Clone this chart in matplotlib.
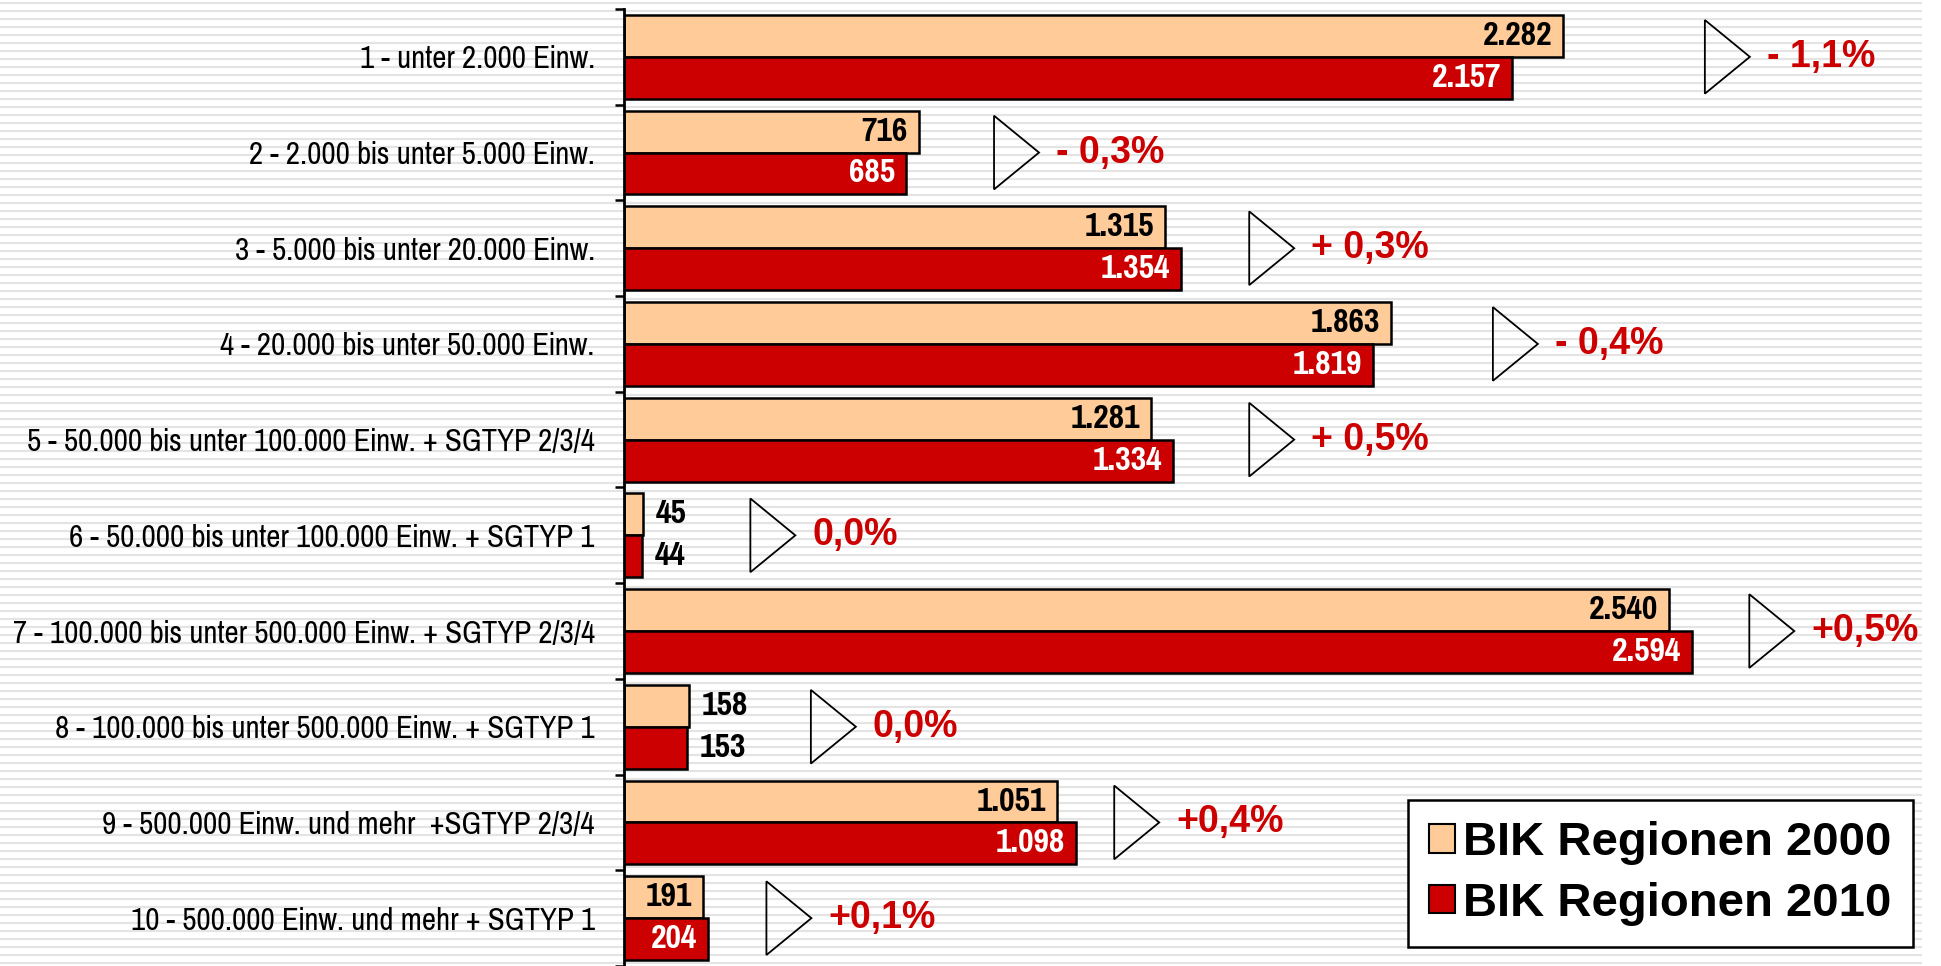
import matplotlib
matplotlib.use("Agg")
import matplotlib.pyplot as plt
import numpy as np
from matplotlib.patches import Polygon, Patch
from matplotlib import font_manager

# ---------------- data ----------------
categories = [
    "1 - unter 2.000 Einw.",
    "2 - 2.000 bis unter 5.000 Einw.",
    "3 - 5.000 bis unter 20.000 Einw.",
    "4 - 20.000 bis unter 50.000 Einw.",
    "5 - 50.000 bis unter 100.000 Einw. + SGTYP 2/3/4",
    "6 - 50.000 bis unter 100.000 Einw. + SGTYP 1",
    "7 - 100.000 bis unter 500.000 Einw. + SGTYP 2/3/4",
    "8 - 100.000 bis unter 500.000 Einw. + SGTYP 1",
    "9 - 500.000 Einw. und mehr  +SGTYP 2/3/4",
    "10 - 500.000 Einw. und mehr + SGTYP 1",
]
values_2000 = [2282, 716, 1315, 1863, 1281, 45, 2540, 158, 1051, 191]
values_2010 = [2157, 685, 1354, 1819, 1334, 44, 2594, 153, 1098, 204]
change_labels = ["- 1,1%", "- 0,3%", "+ 0,3%", "- 0,4%", "+ 0,5%",
                 "0,0%", "+0,5%", "0,0%", "+0,4%", "+0,1%"]
series_names = ["BIK Regionen 2000", "BIK Regionen 2010"]
# position (in data units) of the hand-placed arrow shapes
marker_x = [2626, 899, 1519, 2111, 1519, 307, 2734, 454, 1191, 346]
label_outside = [False, False, False, False, False, True, False, True, False, False]

# ---------------- style ----------------
C2000 = "#FFCC99"
C2010 = "#CC0000"
names = {f.name for f in font_manager.fontManager.ttflist}
NARROW = "Liberation Sans"
for cand in ["Liberation Sans Narrow", "Pragati Narrow", "Roboto Condensed", "PT Sans Narrow"]:
    if cand in names:
        NARROW = cand
        break
NARROW_F = [NARROW, "DejaVu Sans"]
WIDE_F = ["Liberation Sans", "DejaVu Sans"]

W, H = 1941, 966
fig = plt.figure(figsize=(W / 100, H / 100), dpi=100)
fig.patch.set_facecolor("white")

# striped background
bg = fig.add_axes([0, 0, 1, 1], zorder=-5)
bg.set_xlim(0, W)
bg.set_ylim(H, 0)
bg.axis("off")
bg.hlines(np.arange(2.5, H, 8), 0, 1922, color="#e4e4e4", lw=1.6)

# main axes
ax_left, ax_right, ax_top = 624, 1925, 9
ax = fig.add_axes([ax_left / W, 0, (ax_right - ax_left) / W, (H - ax_top) / H])
ax.patch.set_alpha(0)
group_px = 96.2
n = len(categories)
y = np.arange(n)
ax.set_xlim(0, (ax_right - ax_left) / 0.4116)
ax.set_ylim(-0.5 + (H - ax_top) / group_px, -0.5)

bh = 0.4375
ax.barh(y - bh / 2, values_2000, height=bh, color=C2000, edgecolor="black", lw=1.8, zorder=3)
ax.barh(y + bh / 2, values_2010, height=bh, color=C2010, edgecolor="black", lw=1.8, zorder=3)

for s in ["top", "right", "bottom"]:
    ax.spines[s].set_visible(False)
ax.spines["left"].set_linewidth(2.0)
ax.spines["left"].set_zorder(5)
ax.set_xticks([])
ax.set_yticks(y)
ax.set_yticklabels(categories, family=NARROW_F, fontsize=24.3)
ax.tick_params(axis="y", which="major", length=0, pad=21)
ax.set_yticks(np.arange(n + 1) - 0.5, minor=True)
ax.tick_params(axis="y", which="minor", length=6.5, width=1.8, direction="out")


def fmt(v):
    return f"{v:,}".replace(",", ".")


for i in range(n):
    for v, yy, inside_color in [(values_2000[i], y[i] - bh / 2, "black"),
                                (values_2010[i], y[i] + bh / 2, "white")]:
        if label_outside[i]:
            ax.annotate(fmt(v), xy=(v, yy), xytext=(13, 0), textcoords="offset pixels",
                        ha="left", va="center", family=NARROW_F, fontweight="bold",
                        fontsize=26.5, color="black", zorder=6)
        else:
            ax.annotate(fmt(v), xy=(v, yy), xytext=(-11, 0), textcoords="offset pixels",
                        ha="right", va="center", family=NARROW_F, fontweight="bold",
                        fontsize=26.5, color=inside_color, zorder=6)
    # arrow-shaped marker
    tw = 45 / 0.4116
    th = 0.385
    tri = Polygon([(marker_x[i], y[i] - th), (marker_x[i], y[i] + th), (marker_x[i] + tw, y[i])],
                  closed=True, fill=False, edgecolor="black", lw=1.3, zorder=4, clip_on=False)
    ax.add_patch(tri)
    ax.annotate(change_labels[i], xy=(marker_x[i] + tw, y[i]), xytext=(17, 0),
                textcoords="offset pixels", ha="left", va="center",
                family=WIDE_F, fontweight="bold", fontsize=27, color=C2010, zorder=6)

handles = [Patch(facecolor=C2000, edgecolor="black", lw=1.5),
           Patch(facecolor=C2010, edgecolor="black", lw=1.5)]
leg = fig.legend(handles, series_names, loc="lower right",
                 bbox_to_anchor=(1913 / W, (H - 947) / H),
                 prop={"family": WIDE_F, "weight": "bold", "size": 34},
                 frameon=True, fancybox=False, edgecolor="black", facecolor="white",
                 framealpha=1, handlelength=0.55, handleheight=0.55,
                 handletextpad=0.18, borderpad=0.45, labelspacing=0.35,
                 borderaxespad=0)
leg.get_frame().set_linewidth(1.8)

fig.savefig("out.png", dpi=100, facecolor="white")
